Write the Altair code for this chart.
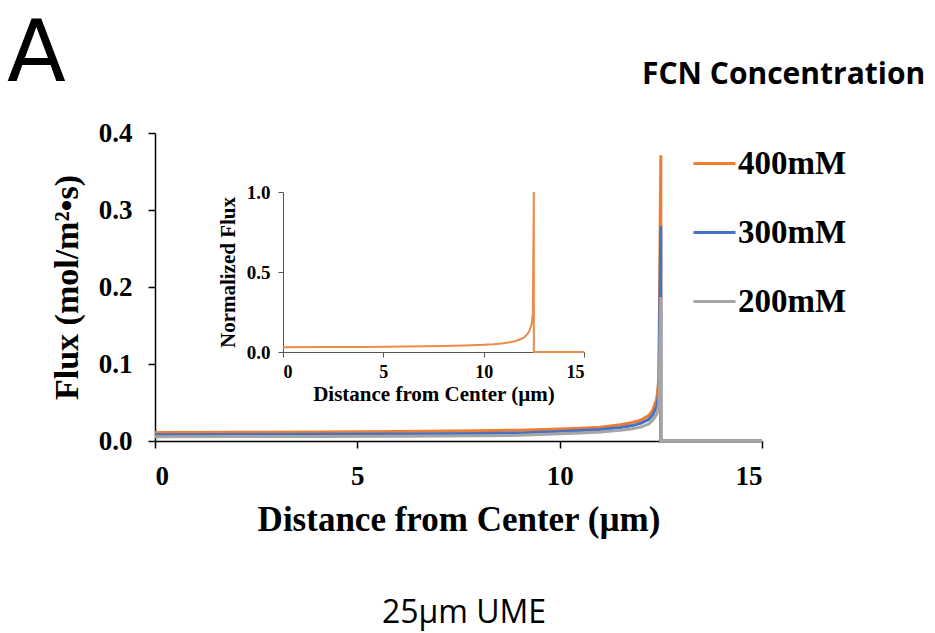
import altair as alt
import pandas as pd

# ---- data ----
x_pos = [0, 2, 4, 6, 8, 9, 10, 10.5, 11, 11.5, 11.8, 12.0, 12.2, 12.3, 12.4, 12.45, 12.5, 12.5, 15]
flux_400 = [0.011, 0.0113, 0.0117, 0.0123, 0.0133, 0.014, 0.0155, 0.0165, 0.018, 0.021, 0.024, 0.027,
            0.033, 0.04, 0.055, 0.08, 0.371, 0.0, 0.0]
flux_300 = [0.0082, 0.0084, 0.0087, 0.0091, 0.0099, 0.0105, 0.0125, 0.0135, 0.015, 0.0175, 0.02, 0.023,
            0.028, 0.034, 0.045, 0.062, 0.279, 0.0, 0.0]
flux_200 = [0.0055, 0.0057, 0.0059, 0.0063, 0.0069, 0.0074, 0.0095, 0.0105, 0.0118, 0.0138, 0.0158, 0.018,
            0.022, 0.027, 0.035, 0.046, 0.187, 0.0, 0.0]
norm_400 = [0.03, 0.031, 0.032, 0.034, 0.037, 0.04, 0.045, 0.049, 0.055, 0.065, 0.078, 0.09,
            0.115, 0.14, 0.18, 0.24, 1.0, 0.0, 0.0]

series_labels = ["400mM", "300mM", "200mM"]
series_colors = ["#ED7D31", "#4472C4", "#A5A5A5"]
x_ticks = [0, 5, 10, 15]
y_ticks = [0, 0.1, 0.2, 0.3, 0.4]
inset_y_ticks = [0, 0.5, 1.0]

rows = []
for lab, vals in zip(series_labels, [flux_400, flux_300, flux_200]):
    for i, (xv, fv) in enumerate(zip(x_pos, vals)):
        rows.append({"series": lab, "x": xv, "flux": fv, "order": i})
df = pd.DataFrame(rows)
inset_df = pd.DataFrame({"x": x_pos, "norm": norm_400, "order": list(range(len(x_pos)))})

SERIF = "Liberation Serif"
SANS = "Open Sans"

main = alt.Chart(df).mark_line(strokeWidth=3).encode(
    x=alt.X("x:Q",
            scale=alt.Scale(domain=[0, 15], nice=False, zero=False),
            axis=alt.Axis(values=x_ticks, title="Distance from Center (µm)",
                          labelFont=SERIF, labelFontWeight="bold", labelFontSize=27, labelColor="black",
                          labelPadding=15, tickSize=7, tickColor="black", tickWidth=1.5,
                          domainColor="black", domainWidth=1.5,
                          titleFont=SERIF, titleFontWeight="bold", titleFontSize=35, titleColor="black",
                          titlePadding=13, grid=False)),
    y=alt.Y("flux:Q",
            scale=alt.Scale(domain=[0, 0.4], nice=False),
            axis=alt.Axis(values=y_ticks, format=".1f", title="Flux (mol/m²•s)",
                          labelFont=SERIF, labelFontWeight="bold", labelFontSize=27, labelColor="black",
                          labelPadding=16, tickSize=7, tickColor="black", tickWidth=1.5,
                          domainColor="black", domainWidth=1.5,
                          titleFont=SERIF, titleFontWeight="bold", titleFontSize=34, titleColor="black",
                          titlePadding=14, grid=False)),
    color=alt.Color("series:N",
                    scale=alt.Scale(domain=series_labels, range=series_colors),
                    legend=alt.Legend(title=None, orient="none", legendX=537, legendY=8,
                                      symbolType="stroke", symbolSize=1764, symbolStrokeWidth=3,
                                      labelFont=SERIF, labelFontWeight="bold", labelFontSize=33,
                                      labelColor="black", rowPadding=29, labelOffset=1, padding=0)),
    order="order:Q",
)

inset = alt.Chart(inset_df).mark_line(strokeWidth=2, color="#EE8A48").encode(
    x=alt.X("x:Q",
            scale=alt.Scale(domain=[0, 15], range=[128, 429], nice=False, zero=False),
            axis=alt.Axis(orient="bottom", offset=-89, values=x_ticks, title="Distance from Center (µm)",
                          labelFont=SERIF, labelFontWeight="bold", labelFontSize=18, labelColor="black",
                          labelPadding=6, tickSize=5, tickColor="#555555",
                          domainColor="#555555", domainWidth=1,
                          titleFont=SERIF, titleFontWeight="bold", titleFontSize=21, titleColor="black",
                          titlePadding=2, grid=False)),
    y=alt.Y("norm:Q",
            scale=alt.Scale(domain=[0, 1], range=[219, 59], nice=False),
            axis=alt.Axis(orient="left", offset=-128, values=inset_y_ticks, format=".1f",
                          title="Normalized Flux",
                          labelFont=SERIF, labelFontWeight="bold", labelFontSize=19, labelColor="black",
                          labelPadding=8, tickSize=5, tickColor="#555555",
                          domainColor="#555555", domainWidth=1,
                          titleFont=SERIF, titleFontWeight="bold", titleFontSize=21, titleColor="black",
                          titlePadding=8, grid=False)),
    order="order:Q",
)


def label(t, x, y, size, weight="normal", align="left", font=SANS):
    return alt.Chart(pd.DataFrame({"t": [t]})).mark_text(
        font=font, fontSize=size, fontWeight=weight, align=align, baseline="alphabetic", color="black"
    ).encode(text="t:N", x=alt.value(x), y=alt.value(y))


panel = label("A", -148, -52, 86, font="DejaVu Sans")
legend_title = label("FCN Concentration", 487, -49, 30, weight="bold")
caption = label("25µm UME", 309, 490, 32, align="center")

chart = alt.layer(main, inset, panel, legend_title, caption).resolve_scale(
    x="independent", y="independent"
).properties(
    width=607, height=308,
    background="white",
    autosize=alt.AutoSizeParams(type="none"),
    padding={"left": 155, "top": 133, "right": 173, "bottom": 192},
).configure_view(stroke=None)

chart.save("out.html", embed_options={"renderer": "svg", "actions": False})
